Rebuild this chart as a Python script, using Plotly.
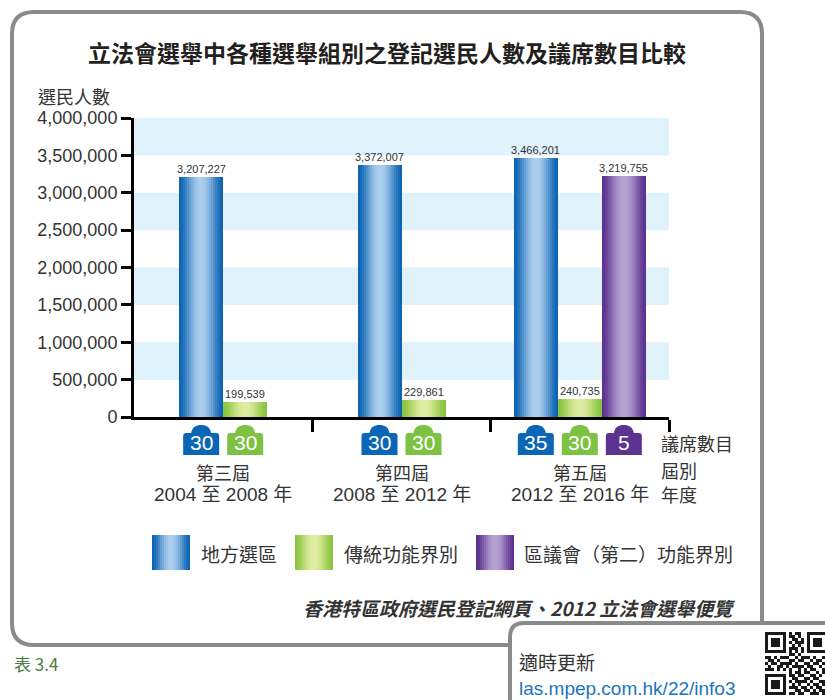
import math
import plotly.graph_objects as go

# ---------------- data ----------------
periods = ["第三屆", "第四屆", "第五屆"]
years = ["2004 至 2008 年", "2008 至 2012 年", "2012 至 2016 年"]
series_names = ["地方選區", "傳統功能界別", "區議會（第二）功能界別"]
geo_voters = [3207227, 3372007, 3466201]
fc_voters = [199539, 229861, 240735]
dc_voters = [None, None, 3219755]
geo_seats = [30, 30, 35]
fc_seats = [30, 30, 30]
dc_seats = [None, None, 5]
y_ticks = [0, 500000, 1000000, 1500000, 2000000, 2500000, 3000000, 3500000, 4000000]

title_text = "立法會選舉中各種選舉組別之登記選民人數及議席數目比較"
y_title = "選民人數"
right_labels = ["議席數目", "屆別", "年度"]
source_text = "香港特區政府選民登記網頁、2012 立法會選舉便覽"
update_title = "適時更新"
update_url = "las.mpep.com.hk/22/info3"
table_label = "表 3.4"

voters = [geo_voters, fc_voters, dc_voters]
seats = [geo_seats, fc_seats, dc_seats]
edge_cols = [(10, 98, 178), (138, 196, 62), (90, 48, 143)]
center_cols = [(172, 206, 238), (224, 236, 162), (182, 162, 210)]
badge_cols = ["#0b66b5", "#7dc242", "#5c3292"]

# ---------------- layout geometry ----------------
W, H = 825, 700
L, R, T, B = 134, 669, 118, 417
PW, PH = R - L, B - T
unit_px = PW / 3.0
bar_px = 44
bw = bar_px / unit_px
NS = 22
sw = bw / NS

CJK = "Noto Sans CJK TC"
LAT = "Liberation Sans, Noto Sans CJK TC"
TXT = "#333333"


def pxx(x):
    return (x - L) / PW


def pyy(y):
    return (B - y) / PH


def mix(a, b, w):
    return "rgb(%d,%d,%d)" % tuple(round(a[i] + (b[i] - a[i]) * w) for i in range(3))


def shade(j, t):
    w = math.sin(math.pi * t) ** 1.6
    return mix(edge_cols[j], center_cols[j], w)


# bar centres computed from the grouping
centers = [[None] * 3 for _ in range(3)]
for i in range(3):
    present = [j for j in range(3) if voters[j][i] is not None]
    for k, j in enumerate(present):
        centers[j][i] = i + 0.5 + (k - (len(present) - 1) / 2) * bw

fig = go.Figure()

for j in range(3):
    xs = [centers[j][i] for i in range(3) if voters[j][i] is not None]
    ys = [voters[j][i] for i in range(3) if voters[j][i] is not None]
    n = len(xs)
    for k in range(NS):
        t = (k + 0.5) / NS
        wdt = sw * (1.6 if k < NS - 1 else 1.0)
        fig.add_trace(go.Bar(
            x=xs, y=ys, width=[wdt] * n, offset=[-bw / 2 + k * sw] * n,
            marker=dict(color=shade(j, t), line=dict(width=0)),
            showlegend=False, hoverinfo="skip",
            name=series_names[j],
        ))

shapes = []
annotations = []

# background bands
for lo in [500000, 1500000, 2500000, 3500000]:
    shapes.append(dict(type="rect", xref="paper", yref="y", x0=0, x1=1, y0=lo, y1=lo + 500000,
                       fillcolor="#dff1fb", line=dict(width=0), layer="below"))

# value labels
for j in range(3):
    for i in range(3):
        v = voters[j][i]
        if v is None:
            continue
        annotations.append(dict(x=centers[j][i], y=v, xref="x", yref="y", text=f"{v:,}",
                                showarrow=False, yanchor="bottom", yshift=0,
                                font=dict(family=LAT, size=11, color=TXT)))

# seat badges
badge_path = ("M -18,-38 L -18,-19 Q -18,-16 -15,-16 L -10,-16 C -9,-10 -5,-8 0,-8 "
              "C 5,-8 9,-10 10,-16 L 15,-16 Q 18,-16 18,-19 L 18,-38 Z")
for j in range(3):
    for i in range(3):
        s = seats[j][i]
        if s is None:
            continue
        shapes.append(dict(type="path", xref="x", yref="paper", xsizemode="pixel", ysizemode="pixel",
                           xanchor=centers[j][i], yanchor=0, path=badge_path,
                           fillcolor=badge_cols[j], line=dict(width=0)))
        annotations.append(dict(x=centers[j][i], y=pyy(442), xref="x", yref="paper", text=str(s),
                                showarrow=False, xanchor="center", yanchor="middle",
                                font=dict(family=LAT, size=21, color="white")))

# group labels
for i in range(3):
    annotations.append(dict(x=i + 0.5, y=pyy(472), xref="x", yref="paper", text=periods[i],
                            showarrow=False, yanchor="middle", font=dict(family=CJK, size=18, color=TXT)))
    annotations.append(dict(x=i + 0.5, y=pyy(494), xref="x", yref="paper", text=years[i],
                            showarrow=False, yanchor="middle", font=dict(family=LAT, size=19, color=TXT)))

for lab, yc in zip(right_labels, [443, 470, 494]):
    annotations.append(dict(x=pxx(659), y=pyy(yc), xref="paper", yref="paper", text=lab,
                            showarrow=False, xanchor="left", yanchor="middle",
                            font=dict(family=CJK, size=18, color=TXT)))

# title & axis title
annotations.append(dict(x=pxx(387), y=pyy(52), xref="paper", yref="paper", text="<b>" + title_text + "</b>",
                        showarrow=False, xanchor="center", yanchor="middle",
                        font=dict(family=CJK, size=23, color="#231f20")))
annotations.append(dict(x=pxx(36), y=pyy(96), xref="paper", yref="paper", text=y_title,
                        showarrow=False, xanchor="left", yanchor="middle",
                        font=dict(family=CJK, size=18, color=TXT)))

# legend (manual, gradient swatches)
leg_sw = [152, 295, 476]
leg_tx = [199, 342, 522]
for j in range(3):
    x0 = leg_sw[j]
    n = 19
    for k in range(n):
        t = (k + 0.5) / n
        xa = x0 + k * 38 / n
        xb = xa + 38 / n + (0.6 if k < n - 1 else 0)
        shapes.append(dict(type="rect", xref="paper", yref="paper", x0=pxx(xa), x1=pxx(xb),
                           y0=pyy(570), y1=pyy(535), fillcolor=shade(j, t), line=dict(width=0)))
    annotations.append(dict(x=pxx(leg_tx[j]), y=pyy(553), xref="paper", yref="paper", text=series_names[j],
                            showarrow=False, xanchor="left", yanchor="middle",
                            font=dict(family=CJK, size=19, color=TXT)))

annotations.append(dict(x=pxx(737), y=pyy(607), xref="paper", yref="paper",
                        text="<b><i>" + source_text + "</i></b>", showarrow=False,
                        xanchor="right", yanchor="middle", font=dict(family=CJK, size=19, color=TXT)))


def rrect(x0, y0, x1, y1, r):
    def p(x, y):
        return "%.1f,%.1f" % (x - L, B - y)
    return ("M " + p(x0 + r, y0) + " L " + p(x1 - r, y0) + " Q " + p(x1, y0) + " " + p(x1, y0 + r) +
            " L " + p(x1, y1 - r) + " Q " + p(x1, y1) + " " + p(x1 - r, y1) +
            " L " + p(x0 + r, y1) + " Q " + p(x0, y1) + " " + p(x0, y1 - r) +
            " L " + p(x0, y0 + r) + " Q " + p(x0, y0) + " " + p(x0 + r, y0) + " Z")


shapes.append(dict(type="path", xref="paper", yref="paper", xsizemode="pixel", ysizemode="pixel",
                   xanchor=0, yanchor=0, path=rrect(12, 12, 762, 645, 22),
                   line=dict(color="#8a8a8a", width=4), fillcolor="rgba(0,0,0,0)"))
shapes.append(dict(type="path", xref="paper", yref="paper", xsizemode="pixel", ysizemode="pixel",
                   xanchor=0, yanchor=0, path=rrect(510, 623, 900, 780, 14),
                   line=dict(color="#8a8a8a", width=4), fillcolor="white"))

annotations.append(dict(x=pxx(517), y=pyy(661), xref="paper", yref="paper", text=update_title,
                        showarrow=False, xanchor="left", yanchor="middle",
                        font=dict(family=CJK, size=19, color=TXT)))
annotations.append(dict(x=pxx(517), y=pyy(688), xref="paper", yref="paper", text=update_url,
                        showarrow=False, xanchor="left", yanchor="middle",
                        font=dict(family=LAT, size=19, color="#1b75bb")))
annotations.append(dict(x=pxx(12), y=pyy(663), xref="paper", yref="paper", text=table_label,
                        showarrow=False, xanchor="left", yanchor="middle",
                        font=dict(family=CJK, size=17, color="#4e7b43")))

# QR-like decoration
qr_rows = [
    "111111101011001111111",
    "100000101101001000001",
    "101110100110101011101",
    "101110101011101011101",
    "101110100101001011101",
    "100000101110101000001",
    "111111101010101111111",
    "000000001101000000000",
    "110101110010111010011",
    "011010001101100101100",
    "101101111010011011010",
    "010011010111101100101",
    "111010101001010110011",
    "000000001011011001010",
    "111111101101100110101",
    "100000100110011011001",
    "101110101011110100111",
    "101110100101001011010",
    "101110101110110101101",
    "100000100011011010110",
    "111111101101100111011",
]
qx0, qy0, m = 765, 632, 3.0
for r, row in enumerate(qr_rows):
    c = 0
    while c < len(row):
        if row[c] == "1":
            c2 = c
            while c2 < len(row) and row[c2] == "1":
                c2 += 1
            shapes.append(dict(type="rect", xref="paper", yref="paper",
                               x0=pxx(qx0 + c * m), x1=pxx(qx0 + c2 * m),
                               y0=pyy(qy0 + (r + 1) * m), y1=pyy(qy0 + r * m),
                               fillcolor="#1a1a1a", line=dict(width=0)))
            c = c2
        else:
            c += 1

fig.update_layout(
    width=W, height=H, autosize=False,
    margin=dict(l=L, r=W - R, t=T, b=H - B, pad=0),
    paper_bgcolor="white", plot_bgcolor="white",
    barmode="overlay", bargap=0,
    showlegend=False,
    shapes=shapes, annotations=annotations,
    xaxis=dict(range=[0, 3], tickvals=[1, 2, 3], showticklabels=False, ticks="outside",
               ticklen=12, tickwidth=3, tickcolor="black", showline=True, linecolor="black",
               linewidth=3, showgrid=False, zeroline=False, fixedrange=True),
    yaxis=dict(range=[0, 4000000], tickvals=y_ticks, tickformat=",", ticks="outside",
               ticklen=10, tickwidth=3, tickcolor="black", showline=True, linecolor="black",
               linewidth=3, showgrid=False, zeroline=False, fixedrange=True,
               tickfont=dict(family=LAT, size=18, color=TXT)),
    font=dict(family=CJK, color=TXT),
)

fig.write_html("out.html")
